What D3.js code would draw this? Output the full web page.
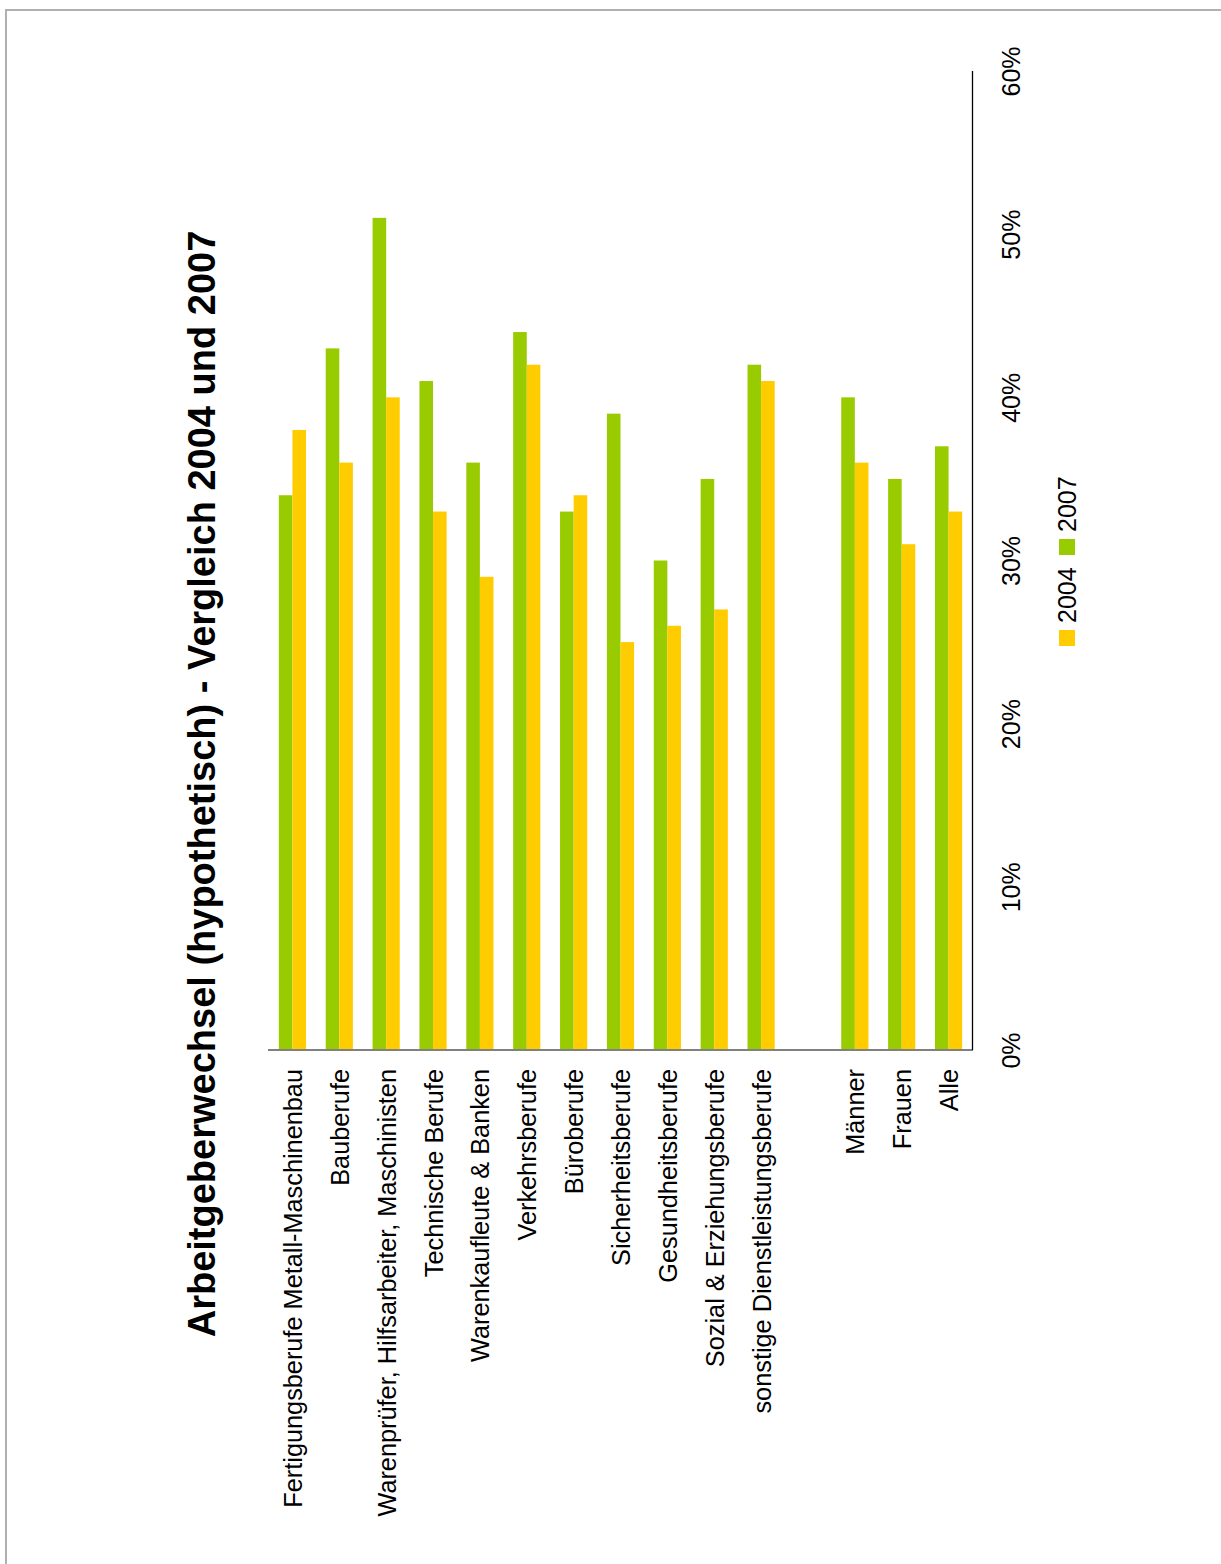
<!DOCTYPE html>
<html>
<head>
<meta charset="utf-8">
<script src="https://cdn.jsdelivr.net/npm/d3@7"></script>
<style>
  html, body { margin: 0; padding: 0; background: #fff; }
  svg { display: block; }
  text { font-family: "Liberation Sans", Arial, Helvetica, sans-serif; fill: #000; }
</style>
</head>
<body>
<script>
// ---- Data ----
const categories = [
  "Fertigungsberufe Metall-Maschinenbau",
  "Bauberufe",
  "Warenprüfer, Hilfsarbeiter, Maschinisten",
  "Technische Berufe",
  "Warenkaufleute & Banken",
  "Verkehrsberufe",
  "Büroberufe",
  "Sicherheitsberufe",
  "Gesundheitsberufe",
  "Sozial & Erziehungsberufe",
  "sonstige Dienstleistungsberufe",
  " ",
  "Männer",
  "Frauen",
  "Alle"
];
const seriesNames = ["2007", "2004"];
const values2007 = [0.34, 0.43, 0.51, 0.41, 0.36, 0.44, 0.33, 0.39, 0.30, 0.35, 0.42, null, 0.40, 0.35, 0.37];
const values2004 = [0.38, 0.36, 0.40, 0.33, 0.29, 0.42, 0.34, 0.25, 0.26, 0.27, 0.41, null, 0.36, 0.31, 0.33];
const tickValues = [0, 0.1, 0.2, 0.3, 0.4, 0.5, 0.6];
const legendOrder = ["2004", "2007"];
const titleText = "Arbeitgeberwechsel (hypothetisch) - Vergleich 2004 und 2007";

const colors = { "2007": "#99CC00", "2004": "#FFCC00" };

// ---- Setup ----
const W = 1221, H = 1564;
const svg = d3.select("body").append("svg").attr("width", W).attr("height", H);

// outer frame
svg.append("rect")
  .attr("x", 6).attr("y", 10)
  .attr("width", W + 20).attr("height", H + 20)
  .attr("fill", "none").attr("stroke", "#b0b0b0").attr("stroke-width", 2);

const x0 = d3.scaleBand().domain(categories).range([269, 972])
  .paddingInner(0.42).paddingOuter(0.21);
const x1 = d3.scaleBand().domain(seriesNames).range([0, x0.bandwidth()]);
const y = d3.scaleLinear().domain([0, 0.6]).range([1050, 71]);

const seriesData = { "2007": values2007, "2004": values2004 };

// bars
const g = svg.append("g");
seriesNames.forEach(s => {
  g.selectAll(null)
    .data(categories.map((c, i) => ({ c, v: seriesData[s][i] })).filter(d => d.v != null))
    .enter().append("rect")
    .attr("x", d => x0(d.c) + x1(s))
    .attr("y", d => y(d.v))
    .attr("width", x1.bandwidth())
    .attr("height", d => y(0) - y(d.v))
    .attr("fill", colors[s]);
});

// category baseline
svg.append("line")
  .attr("x1", 268).attr("x2", 973)
  .attr("y1", y(0)).attr("y2", y(0))
  .attr("stroke", "#808080").attr("stroke-width", 2);

// value axis (right side)
const yAxis = d3.axisRight(y).tickValues(tickValues).tickSize(0).tickFormat(d3.format(".0%"));
const ax = svg.append("g").attr("transform", "translate(972.5,0)").call(yAxis);
ax.select(".domain").attr("stroke", "#000").attr("stroke-width", 1.3).attr("d", `M0,${y(0.6)}V${y(0)}`);
ax.selectAll(".tick text")
  .attr("x", null).attr("dy", null)
  .attr("font-size", 25)
  .attr("font-family", "Liberation Sans, Arial, sans-serif")
  .attr("fill", "#000")
  .attr("text-anchor", "middle")
  .attr("transform", "translate(47.5,0) rotate(-90)");

// category labels
svg.append("g").selectAll("text")
  .data(categories)
  .enter().append("text")
  .attr("transform", d => `translate(${x0(d) + x0.bandwidth() / 2 + 9.5},1069) rotate(-90)`)
  .attr("text-anchor", "end")
  .attr("font-size", 25.3)
  .text(d => d.trim());

// title
svg.append("text")
  .attr("transform", "translate(215,784) rotate(-90)")
  .attr("text-anchor", "middle")
  .attr("font-size", 38)
  .attr("font-weight", "bold")
  .text(titleText);

// legend
const legendY = { "2004": 646, "2007": 555 };
legendOrder.forEach(s => {
  svg.append("rect")
    .attr("x", 1059).attr("y", legendY[s] - 16)
    .attr("width", 16).attr("height", 16)
    .attr("fill", colors[s]);
  svg.append("text")
    .attr("transform", `translate(1076,${legendY[s] - 23}) rotate(-90)`)
    .attr("text-anchor", "start")
    .attr("font-size", 25)
    .text(s);
});
</script>
</body>
</html>
